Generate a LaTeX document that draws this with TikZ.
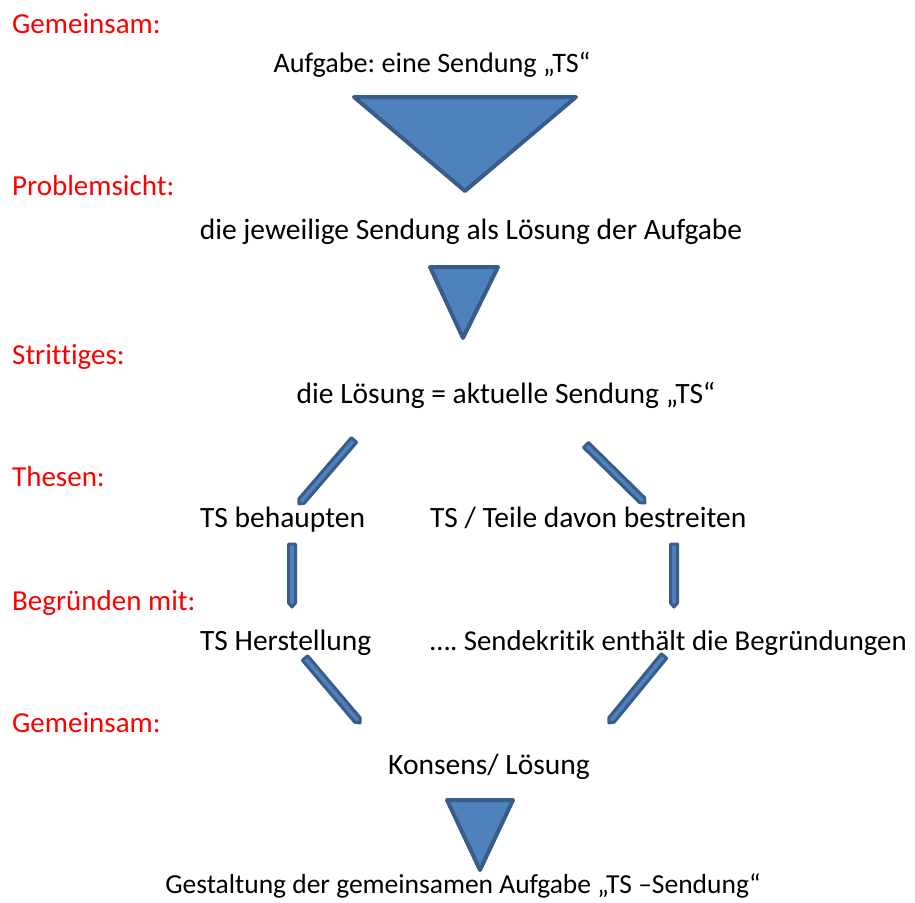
\documentclass[tikz,border=0pt]{standalone}
\usepackage{fontspec}
\setmainfont[Ligatures={NoCommon}]{Carlito}
\usetikzlibrary{calc}
\definecolor{triFill}{HTML}{4F81BD}
\definecolor{triLine}{HTML}{385D8A}
\definecolor{labRed}{HTML}{FF0000}
\newcommand\slimbar[2]{%
  \path ($(#2)!4pt!(#1)$) coordinate (sbq);
  \draw[barshape] ($(#1)!3.5pt!90:(#2)$) -- ($(sbq)!3.5pt!-90:(#1)$) -- (#2)
     -- ($(sbq)!3.5pt!90:(#1)$) -- ($(#1)!3.5pt!-90:(#2)$) -- cycle;}
\frenchspacing
\begin{document}
\begin{tikzpicture}[x=1pt,y=-1pt,
  txt/.style={inner sep=0pt,font=\fontsize{29.5}{34}\selectfont,text=black},
  lab/.style={txt,font=\fontsize{29}{34}\selectfont,text=labRed,anchor=base west},
  tri/.style={fill=triFill,draw=triLine,line width=4pt,line join=round},
  barshape/.style={fill=triFill,draw=triLine,line width=3pt,line join=round}]
\useasboundingbox (0,0) rectangle (915,902);
% red labels
\node[lab] (l1) at (12,33) {Gemeinsam:};
\node[lab] (l2) at (12,195) {Problemsicht:};
\node[lab] (l3) at (12,364) {Strittiges:};
\node[lab] (l4) at (12,486) {Thesen:};
\node[lab] (l5) at (12,610) {Begründen mit:};
\node[lab] (l6) at (12,732) {Gemeinsam:};
% main texts
\node[txt,font=\fontsize{28.2}{34}\selectfont,anchor=base] (t1) at (432,72) {Aufgabe: eine Sendung „TS“};
\node[txt,anchor=base] (t2) at (471,239) {die jeweilige Sendung als Lösung der Aufgabe};
\node[txt,anchor=base] (t3) at (506,403) {die Lösung = aktuelle Sendung „TS“};
\node[txt,anchor=base west] (t4a) at (200,527) {TS behaupten};
\node[txt,anchor=base west] (t4b) at (430,527) {TS / Teile davon bestreiten};
\node[txt,anchor=base west] (t5a) at (200,650) {TS Herstellung};
\node[txt,font=\fontsize{28.8}{34}\selectfont,anchor=base west] (t5b) at (430,650) {…. Sendekritik enthält die Begründungen};
\node[txt,anchor=base] (t6) at (489,774) {Konsens/ Lösung};
\node[txt,font=\fontsize{27.5}{34}\selectfont,anchor=base] (t7) at (463,893) {Gestaltung der gemeinsamen Aufgabe „TS –Sendung“};
% triangles
\draw[tri] (354,97) -- (576,97) -- (465,191) -- cycle;
\draw[tri] (430,267) -- (498,267) -- (463,338) -- cycle;
\draw[tri] (447,800) -- (513,800) -- (480,870) -- cycle;
% slim bars
\coordinate (b1s) at (354,440); \coordinate (b1e) at (299,504);
\coordinate (b2s) at (586,445); \coordinate (b2e) at (645,503);
\coordinate (b3s) at (292,544); \coordinate (b3e) at (292,607);
\coordinate (b4s) at (674,544); \coordinate (b4e) at (674,607);
\coordinate (b5s) at (305,658); \coordinate (b5e) at (360,723);
\coordinate (b6s) at (664,656); \coordinate (b6e) at (609,723);
\slimbar{b1s}{b1e}
\slimbar{b2s}{b2e}
\slimbar{b3s}{b3e}
\slimbar{b4s}{b4e}
\slimbar{b5s}{b5e}
\slimbar{b6s}{b6e}
\end{tikzpicture}
\end{document}
